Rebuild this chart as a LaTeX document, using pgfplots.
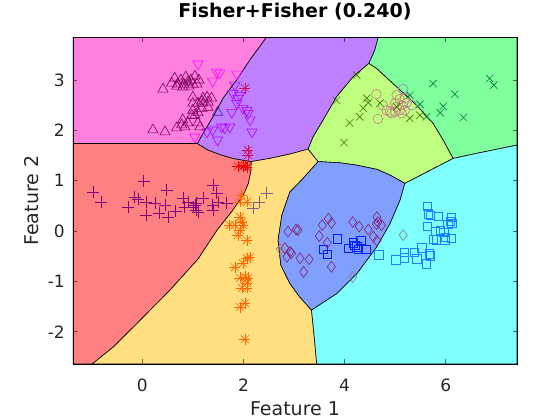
\documentclass[border=0pt]{standalone}
\usepackage{fontspec}
\setmainfont{DejaVu Sans}
\usepackage{pgfplots}
\usepackage{pgfplotstable}
\pgfplotsset{compat=1.18}

% region colours
\definecolor{regR}{HTML}{FF8080}
\definecolor{regY}{HTML}{FFDF80}
\definecolor{regL}{HTML}{BFFF80}
\definecolor{regG}{HTML}{80FF9F}
\definecolor{regC}{HTML}{80FFFF}
\definecolor{regB}{HTML}{809FFF}
\definecolor{regP}{HTML}{BF80FF}
\definecolor{regM}{HTML}{FF80DF}
% marker colours
\definecolor{mPlus}{HTML}{800080}
\definecolor{mPlusY}{HTML}{806080}
\definecolor{mStarY}{HTML}{FF6400}
\definecolor{mStarR}{HTML}{FF0000}
\definecolor{mStarP}{HTML}{C8105F}
\definecolor{mCirc}{HTML}{C87880}
\definecolor{mCircG}{HTML}{9A80C8}
\definecolor{mXL}{HTML}{3C7800}
\definecolor{mXG}{HTML}{00803C}
\definecolor{mSqB}{HTML}{0020FF}
\definecolor{mSqC}{HTML}{1E80FF}
\definecolor{mDiB}{HTML}{802070}
\definecolor{mDiC}{HTML}{8A7A80}
\definecolor{mDiY}{HTML}{C08040}
\definecolor{mTriM}{HTML}{800060}
\definecolor{mTriP}{HTML}{4020B0}
\definecolor{mDownM}{HTML}{FF00FF}
\definecolor{mDownP}{HTML}{B000FF}

\pgfplotstableread{
x y
1.96 0.72
1.93 0.58
2.07 0.58
1.93 0.28
1.73 0.12
1.83 0.12
1.97 0.18
1.99 0.12
1.93 0.02
1.89 -0.08
2.07 -0.18
1.83 -0.72
1.99 -0.64
2.07 -0.54
2.13 -0.52
2.03 -0.91
2.09 -0.93
1.93 -0.93
2.07 -1.03
1.97 -1.13
2.07 -1.13
2.03 -1.43
1.93 -1.51
2.03 -2.15
}\starsY
\pgfplotstableread{
x y
1.89 1.29
1.99 1.29
2.07 1.27
2.03 1.31
}\starsR
\pgfplotstableread{
x y
2.03 2.84
2.09 1.61
2.09 1.51
}\starsP

\begin{document}
\begin{tikzpicture}
\useasboundingbox (-73pt,-56pt) rectangle (487pt,364pt);
\begin{axis}[
  scale only axis, width=444pt, height=326.7pt,
  xmin=-1.37, xmax=7.41, ymin=-2.64, ymax=3.85,
  xtick={0,2,4,6}, ytick={-2,-1,0,1,2,3},
  xticklabels={0,2,4,6}, yticklabels={-2,-1,0,1,2,3},
  tick align=inside, major tick length=4.5pt,
  tick style={black, opacity=0.55, line width=0.6pt},
  axis line style={black, line width=0.8pt},
  ticklabel style={font=\fontsize{17}{17}\selectfont, inner sep=0pt, text=black!85},
  xticklabel style={anchor=base, yshift=-27.5pt},
  yticklabel style={anchor=east, xshift=-8pt},
  title={Fisher+Fisher (0.240)},
  title style={at={(axis description cs:0.5,1.0425)}, anchor=base, inner sep=0pt,
    font=\bfseries\fontsize{19}{19}\selectfont},
  xlabel={Feature 1}, ylabel={Feature 2},
  xlabel style={at={(axis description cs:0.5,-0.159)}, anchor=base, inner sep=0pt,
    font=\fontsize{19}{19}\selectfont, text=black!85},
  ylabel style={at={(axis description cs:-0.0766,0.5)}, anchor=base, inner sep=0pt,
    font=\fontsize{19}{19}\selectfont, text=black!85},
  axis on top,
]
% decision regions
\addplot[fill=regR, draw=black, line width=0.6pt] coordinates {
(-1.37,1.74) (1.09,1.74) (1.302,1.609) (1.567,1.510) (1.796,1.444) (2.156,1.381)
(2.15,1.20) (2.10,0.95) (2.00,0.72) (1.78,0.40) (1.48,0.02) (1.10,-0.56)
(0.55,-1.17) (-0.10,-1.83) (-0.57,-2.30) (-0.99,-2.64) (-1.37,-2.64)} --cycle;
\addplot[fill=regM, draw=black, line width=0.6pt] coordinates {
(-1.37,3.85) (2.457,3.85) (2.127,3.398) (1.864,3.000) (1.598,2.637) (1.401,2.271)
(1.203,1.941) (1.09,1.74) (-1.37,1.74)} --cycle;
\addplot[fill=regP, draw=black, line width=0.6pt] coordinates {
(2.457,3.85) (4.665,3.85) (4.599,3.596) (4.481,3.332) (4.170,3.066) (3.842,2.668)
(3.577,2.205) (3.379,1.874) (3.280,1.629) (2.918,1.530) (2.522,1.444) (2.156,1.381)
(1.796,1.444) (1.567,1.510) (1.302,1.609) (1.09,1.74) (1.203,1.941) (1.401,2.271)
(1.598,2.637) (1.864,3.000) (2.127,3.398)} --cycle;
\addplot[fill=regY, draw=black, line width=0.6pt] coordinates {
(2.156,1.381) (2.522,1.444) (2.918,1.530) (3.280,1.629) (3.478,1.381) (3.149,1.013)
(2.918,0.775) (2.760,0.318) (2.686,-0.179) (2.740,-0.676) (2.918,-1.039) (3.116,-1.311)
(3.347,-1.570) (3.40,-2.10) (3.45,-2.64) (-0.99,-2.64) (-0.57,-2.30) (-0.10,-1.83)
(0.55,-1.17) (1.10,-0.56) (1.48,0.02) (1.78,0.40) (2.00,0.72) (2.10,0.95) (2.15,1.20)} --cycle;
\addplot[fill=regL, draw=black, line width=0.6pt] coordinates {
(3.280,1.629) (3.379,1.874) (3.577,2.205) (3.842,2.668) (4.170,3.066) (4.481,3.332)
(4.633,3.233) (5.029,2.867) (5.424,2.503) (5.753,2.140) (5.951,1.808) (6.148,1.444)
(5.193,0.948) (4.90,1.113) (4.64,1.226) (4.237,1.311) (3.907,1.357) (3.478,1.381)} --cycle;
\addplot[fill=regG, draw=black, line width=0.6pt] coordinates {
(4.665,3.85) (7.41,3.85) (7.41,1.709) (6.611,1.544) (6.148,1.444) (5.951,1.808)
(5.753,2.140) (5.424,2.503) (5.029,2.867) (4.633,3.233) (4.481,3.332) (4.599,3.596)} --cycle;
\addplot[fill=regB, draw=black, line width=0.6pt] coordinates {
(3.478,1.381) (3.907,1.357) (4.237,1.311) (4.64,1.226) (4.90,1.113) (5.193,0.948)
(5.10,0.62) (4.90,0.15) (4.64,-0.31) (4.25,-0.84) (3.85,-1.24) (3.347,-1.570)
(3.116,-1.311) (2.918,-1.039) (2.740,-0.676) (2.686,-0.179) (2.760,0.318) (2.918,0.775)
(3.149,1.013)} --cycle;
\addplot[fill=regC, draw=black, line width=0.6pt] coordinates {
(5.193,0.948) (6.148,1.444) (6.611,1.544) (7.41,1.709) (7.41,-2.64) (3.45,-2.64)
(3.40,-2.10) (3.347,-1.570) (3.85,-1.24) (4.25,-0.84) (4.64,-0.31) (4.90,0.15) (5.10,0.62)} --cycle;

% class 1: plus
\addplot[only marks, mark=+, mark size=6pt, color=mPlus, mark options={line width=0.6pt}] coordinates {
(-0.97,0.78) (-0.81,0.57) (0.03,0.99) (-0.28,0.47) (-0.15,0.67) (-0.08,0.63) (0.07,0.58)
(0.07,0.32) (0.25,0.55) (0.33,0.35) (0.48,0.81) (0.45,0.52) (0.51,0.28) (0.66,0.40)
(0.81,0.65) (0.84,0.48) (0.91,0.58) (1.00,0.48) (1.07,0.42) (1.04,0.52) (1.10,0.38)
(1.20,0.65) (1.40,0.91) (1.47,0.75) (1.40,0.42) (1.39,0.52) (1.50,0.58) (1.67,0.55) (1.07,0.55)};
\addplot[only marks, mark=+, mark size=6pt, color=mPlusY, mark options={line width=0.6pt}] coordinates {
(2.46,0.76) (2.31,0.58) (2.19,0.46)};
% class 2: asterisk (plus and cross)
\addplot[only marks, mark=+, mark size=5.5pt, color=mStarY, mark options={line width=0.6pt}] table {\starsY};
\addplot[only marks, mark=x, mark size=5.5pt, color=mStarY, mark options={line width=0.6pt}] table {\starsY};
\addplot[only marks, mark=+, mark size=5.5pt, color=mStarR, mark options={line width=0.6pt}] table {\starsR};
\addplot[only marks, mark=x, mark size=5.5pt, color=mStarR, mark options={line width=0.6pt}] table {\starsR};
\addplot[only marks, mark=+, mark size=5.5pt, color=mStarP, mark options={line width=0.6pt}] table {\starsP};
\addplot[only marks, mark=x, mark size=5.5pt, color=mStarP, mark options={line width=0.6pt}] table {\starsP};
% class 3: circles
\addplot[only marks, mark=o, mark size=4.8pt, color=mCirc, mark options={line width=0.6pt}] coordinates {
(4.63,2.72) (4.66,2.23) (5.03,2.70) (5.09,2.62) (5.19,2.64) (5.00,2.54) (5.13,2.50)
(5.23,2.55) (4.90,2.37) (5.00,2.37) (4.83,2.40) (5.09,2.40) (5.19,2.40) (5.03,2.47)
(4.93,2.34) (4.76,2.50) (5.13,2.34)};
\addplot[only marks, mark=o, mark size=4.8pt, color=mCircG, mark options={line width=0.6pt}] coordinates {
(5.16,2.82) (5.33,2.50)};
% class 4: crosses
\addplot[only marks, mark=x, mark size=5.2pt, color=mXL, mark options={line width=0.6pt}] coordinates {
(4.24,3.10) (3.84,2.60) (4.44,2.64) (4.47,2.55) (4.37,2.44) (4.30,2.27) (4.10,2.15)
(3.99,1.76) (4.70,2.54) (5.03,2.47) (5.29,2.24) (5.49,2.30)};
\addplot[only marks, mark=x, mark size=5.2pt, color=mXG, mark options={line width=0.6pt}] coordinates {
(5.29,2.70) (5.49,2.52) (5.75,2.93) (6.18,2.72) (5.95,2.48) (5.89,2.35) (6.35,2.26)
(5.62,2.27) (6.87,3.03) (6.95,2.90)};
% class 5: squares
\addplot[only marks, mark=square, mark size=4.2pt, color=mSqB, mark options={line width=0.6pt}] coordinates {
(3.86,-0.15) (4.17,-0.23) (4.20,-0.28) (4.32,-0.18) (4.07,-0.34) (4.27,-0.36) (4.42,-0.36)
(3.58,-0.36) (3.66,-0.46) (4.24,-0.31)};
\addplot[only marks, mark=square, mark size=4.2pt, color=mSqC, mark options={line width=0.6pt}] coordinates {
(5.64,0.49) (5.66,0.34) (5.70,0.31) (5.85,0.29) (6.11,0.27) (5.64,0.09) (5.79,0.00)
(5.89,0.02) (6.09,0.19) (6.12,0.16) (6.04,0.14) (5.96,-0.02) (6.11,-0.14) (5.98,-0.17)
(5.76,-0.16) (5.81,-0.17) (4.68,-0.47) (5.01,-0.57) (5.18,-0.42) (5.18,-0.53) (5.38,-0.42)
(5.43,-0.55) (5.53,-0.33) (5.67,-0.45) (5.69,-0.49) (5.62,-0.65) (5.99,-0.12)};
% class 6: diamonds
\addplot[only marks, mark=diamond, mark size=5.4pt, color=mDiB, mark options={line width=0.6pt}] coordinates {
(3.08,0.02) (3.68,0.25) (3.74,0.16) (3.56,0.12) (3.50,-0.10) (3.66,-0.23) (4.16,0.18)
(4.29,0.09) (4.47,0.03) (4.64,0.28) (4.66,0.18) (4.63,0.14) (4.73,0.12) (4.57,-0.11)
(4.64,-0.19) (3.12,-0.54) (3.30,-0.56) (3.19,-0.81) (3.74,-0.71) (2.95,-0.44) (2.88,-0.01)
(3.04,0.03) (2.82,-0.34) (2.92,-0.41) (2.86,-0.51)};
\addplot[only marks, mark=diamond, mark size=5.4pt, color=mDiC, mark options={line width=0.6pt}] coordinates {
(4.16,-0.91) (5.16,-0.08)};
\addplot[only marks, mark=diamond, mark size=5.4pt, color=mDiY, mark options={line width=0.6pt}] coordinates {
(2.73,-0.36)};
% class 7: triangles down
\addplot[only marks, mark=triangle, mark size=5.9pt, color=mDownM, mark options={line width=0.6pt, rotate=180}] coordinates {
(1.10,3.32) (1.47,3.16) (1.53,3.14) (1.39,2.98) (1.87,3.12) (1.04,1.87)};
\addplot[only marks, mark=triangle, mark size=5.9pt, color=mDownP, mark options={line width=0.6pt, rotate=180}] coordinates {
(1.83,2.90) (1.79,2.74) (1.89,2.64) (1.87,2.54) (1.77,2.36) (2.07,2.40) (2.09,2.34)
(2.13,2.21) (2.17,1.97) (1.73,2.07) (1.57,2.07) (1.39,2.01) (1.28,1.97) (1.49,1.81)
(1.63,2.05) (1.99,2.44) (1.93,2.70)};
% class 8: triangles up
\addplot[only marks, mark=triangle, mark size=5.9pt, color=mTriM, mark options={line width=0.6pt}] coordinates {
(0.41,2.82) (0.64,3.04) (0.70,2.92) (0.76,3.00) (0.82,2.92) (0.90,2.96) (0.96,3.00)
(1.04,3.08) (1.00,2.92) (1.08,2.92) (0.68,2.88) (0.80,2.86) (0.86,3.06) (0.58,2.94)
(1.12,3.00) (0.92,2.88) (1.00,2.66) (1.20,2.64) (1.28,2.66) (1.37,2.64) (1.30,2.56)
(1.18,2.58) (1.00,2.54) (1.10,2.54) (1.20,2.54) (1.18,2.44) (1.30,2.46) (1.00,2.40)
(0.98,2.30) (0.80,2.21) (0.78,2.11) (0.84,2.07) (1.10,2.15) (1.14,2.07) (0.90,2.15)
(0.21,2.01) (0.45,1.97) (0.68,2.05) (1.04,2.30) (1.10,2.36)};
\addplot[only marks, mark=triangle, mark size=5.9pt, color=mTriP, mark options={line width=0.6pt}] coordinates {
(1.49,2.36)};
\end{axis}
\end{tikzpicture}
\end{document}
